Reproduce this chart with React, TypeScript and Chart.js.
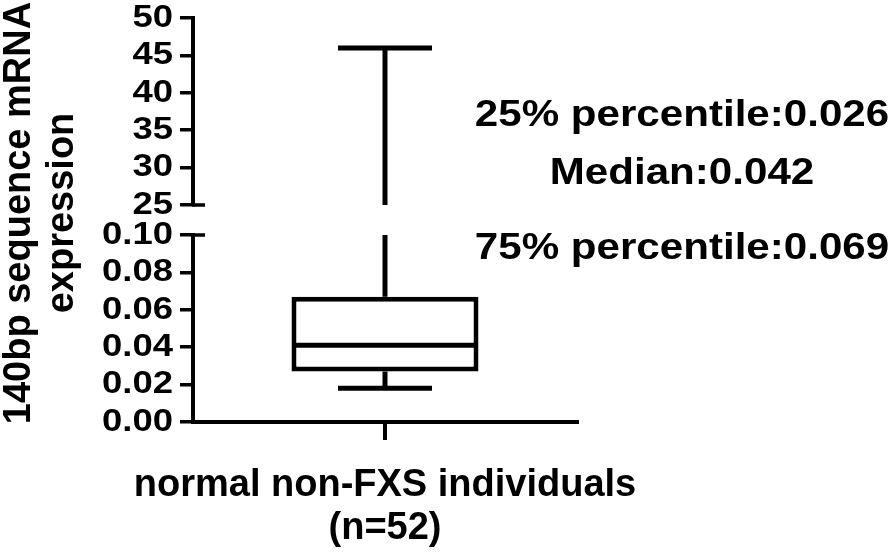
import React, { useEffect, useRef } from 'react';
import { Chart, registerables } from 'chart.js';

Chart.register(...registerables);

// ---- data ----
const categories = [['normal non-FXS individuals', '(n=52)']];
const whiskerMin = 0.018;
const quartile1 = 0.027;
const medianValue = 0.041;
const quartile3 = 0.067;
const whiskerMax = 46;
const lowerAxisRange = [0, 0.1];
const upperAxisRange = [25, 50];
const lowerAxisStep = 0.02;
const upperAxisStep = 5;
const annotationLines = ['25% percentile:0.026', 'Median:0.042', '75% percentile:0.069'];
const yTitleLines = ['140bp sequence mRNA', 'expression'];

const FAMILY = '"Liberation Sans", Arial, Helvetica, sans-serif';

function stretchedText(
  ctx: CanvasRenderingContext2D,
  text: string,
  x: number,
  y: number,
  size: number,
  sx: number,
  align: CanvasTextAlign,
  baseline: CanvasTextBaseline
) {
  ctx.save();
  ctx.translate(x, y);
  ctx.scale(sx, 1);
  ctx.font = `bold ${size}px ${FAMILY}`;
  ctx.fillStyle = '#000';
  ctx.textAlign = align;
  ctx.textBaseline = baseline;
  ctx.fillText(text, 0, 0);
  ctx.restore();
}

const decorPlugin = {
  id: 'decor',
  afterDraw(chart: any) {
    const ctx: CanvasRenderingContext2D = chart.ctx;
    const yTop = chart.scales.yTop;
    const yBottom = chart.scales.yBottom;

    // tick labels (stretched bold text, positioned by the scales)
    for (const sc of [yTop, yBottom]) {
      const decimals = sc === yBottom ? 2 : 0;
      for (const t of sc.ticks) {
        const py = sc.getPixelForValue(t.value);
        stretchedText(ctx, Number(t.value).toFixed(decimals), sc.right - 20, py, 32, 1.14, 'right', 'middle');
      }
    }

    // axis break marks
    ctx.save();
    ctx.strokeStyle = '#000';
    ctx.lineWidth = 3.5;
    ctx.beginPath();
    const yb1 = yTop.getPixelForValue(upperAxisRange[0]);
    ctx.moveTo(yTop.right - 1, yb1);
    ctx.lineTo(yTop.right + 12, yb1);
    const yb2 = yBottom.getPixelForValue(lowerAxisRange[1]);
    ctx.moveTo(yBottom.right - 1, yb2);
    ctx.lineTo(yBottom.right + 12, yb2);
    ctx.stroke();
    ctx.restore();

    // y axis title (two lines, rotated)
    const midY = (chart.chartArea.top + chart.chartArea.bottom) / 2 - 7;
    const baselines = [30, 73];
    yTitleLines.forEach((line, i) => {
      ctx.save();
      ctx.translate(baselines[i], midY);
      ctx.rotate(-Math.PI / 2);
      ctx.font = `bold 38px ${FAMILY}`;
      ctx.fillStyle = '#000';
      ctx.textAlign = 'center';
      ctx.textBaseline = 'alphabetic';
      ctx.fillText(line, 0, 0);
      ctx.restore();
    });

    // annotations
    const annBaselines = [126, 184, 259];
    annotationLines.forEach((line, i) => {
      stretchedText(ctx, line, 682, annBaselines[i], 36, 1.17, 'center', 'alphabetic');
    });
  },
};

export default function App() {
  const ref = useRef<HTMLCanvasElement | null>(null);

  useEffect(() => {
    if (!ref.current) return;
    const cat = categories[0];
    const black = '#000';
    const chart = new Chart(ref.current, {
      type: 'bar',
      data: {
        labels: categories as any,
        datasets: [
          {
            type: 'bar',
            label: 'box',
            data: [[quartile1, quartile3]] as any,
            yAxisID: 'yBottom',
            backgroundColor: '#fff',
            borderColor: black,
            borderWidth: 5,
            borderSkipped: false,
            barPercentage: 0.487,
            categoryPercentage: 1,
            order: 1,
          } as any,
          {
            type: 'line',
            label: 'median',
            data: [{ x: cat, y: medianValue }] as any,
            yAxisID: 'yBottom',
            showLine: false,
            pointStyle: 'line',
            pointRadius: 93,
            pointBorderWidth: 5,
            pointBorderColor: black,
            order: 0,
          } as any,
          {
            type: 'line',
            label: 'lower whisker',
            data: [{ x: cat, y: quartile1 }, { x: cat, y: whiskerMin }] as any,
            yAxisID: 'yBottom',
            borderColor: black,
            borderWidth: 5,
            pointRadius: 0,
            order: 2,
          } as any,
          {
            type: 'line',
            label: 'lower cap',
            data: [{ x: cat, y: whiskerMin }] as any,
            yAxisID: 'yBottom',
            showLine: false,
            pointStyle: 'line',
            pointRadius: 47,
            pointBorderWidth: 5,
            pointBorderColor: black,
            order: 2,
          } as any,
          {
            type: 'line',
            label: 'upper whisker (lower segment)',
            data: [{ x: cat, y: quartile3 }, { x: cat, y: lowerAxisRange[1] }] as any,
            yAxisID: 'yBottom',
            borderColor: black,
            borderWidth: 5,
            pointRadius: 0,
            order: 2,
          } as any,
          {
            type: 'line',
            label: 'upper whisker (upper segment)',
            data: [{ x: cat, y: upperAxisRange[0] }, { x: cat, y: whiskerMax }] as any,
            yAxisID: 'yTop',
            borderColor: black,
            borderWidth: 5,
            pointRadius: 0,
            order: 2,
          } as any,
          {
            type: 'line',
            label: 'upper cap',
            data: [{ x: cat, y: whiskerMax }] as any,
            yAxisID: 'yTop',
            showLine: false,
            pointStyle: 'line',
            pointRadius: 47,
            pointBorderWidth: 5,
            pointBorderColor: black,
            order: 2,
          } as any,
        ],
      },
      options: {
        animation: false,
        responsive: false,
        devicePixelRatio: 1,
        layout: { autoPadding: false, padding: { top: 18, right: 317, bottom: 0, left: 0 } },
        plugins: { legend: { display: false }, tooltip: { enabled: false } },
        scales: {
          x: {
            type: 'category',
            offset: true,
            grid: {
              display: true,
              drawOnChartArea: false,
              drawTicks: true,
              tickLength: 18,
              lineWidth: 4,
              color: black,
              offset: false,
            },
            border: { display: true, width: 4, color: black },
            ticks: {
              font: { family: FAMILY, size: 38, weight: 'bold', lineHeight: 1.13 },
              color: black,
              padding: 24,
              maxRotation: 0,
              minRotation: 0,
              autoSkip: false,
            },
            afterFit: (s: any) => {
              s.height = 131;
            },
          },
          yBottom: {
            type: 'linear',
            position: 'left',
            stack: 'y',
            stackWeight: 187,
            min: lowerAxisRange[0],
            max: lowerAxisRange[1],
            ticks: { stepSize: lowerAxisStep, display: false },
            grid: { drawOnChartArea: false, drawTicks: true, tickLength: 13, lineWidth: 3.5, color: black },
            border: { display: true, width: 4, color: black },
            afterFit: (s: any) => {
              s.width = 193;
            },
          },
          yGap: {
            type: 'linear',
            position: 'left',
            stack: 'y',
            stackWeight: 30,
            grid: { display: false },
            border: { display: false },
            ticks: { display: false },
          },
          yTop: {
            type: 'linear',
            position: 'left',
            stack: 'y',
            stackWeight: 187,
            min: upperAxisRange[0],
            max: upperAxisRange[1],
            ticks: { stepSize: upperAxisStep, display: false },
            grid: { drawOnChartArea: false, drawTicks: true, tickLength: 13, lineWidth: 3.5, color: black },
            border: { display: true, width: 4, color: black },
            afterFit: (s: any) => {
              s.width = 193;
            },
          },
        } as any,
      },
      plugins: [decorPlugin],
    });
    return () => chart.destroy();
  }, []);

  return (
    <div style={{ position: 'fixed', left: 0, top: 0, width: 894, height: 553, background: '#fff' }}>
      <canvas ref={ref} width={894} height={553} style={{ display: 'block', width: 894, height: 553 }} />
    </div>
  );
}
